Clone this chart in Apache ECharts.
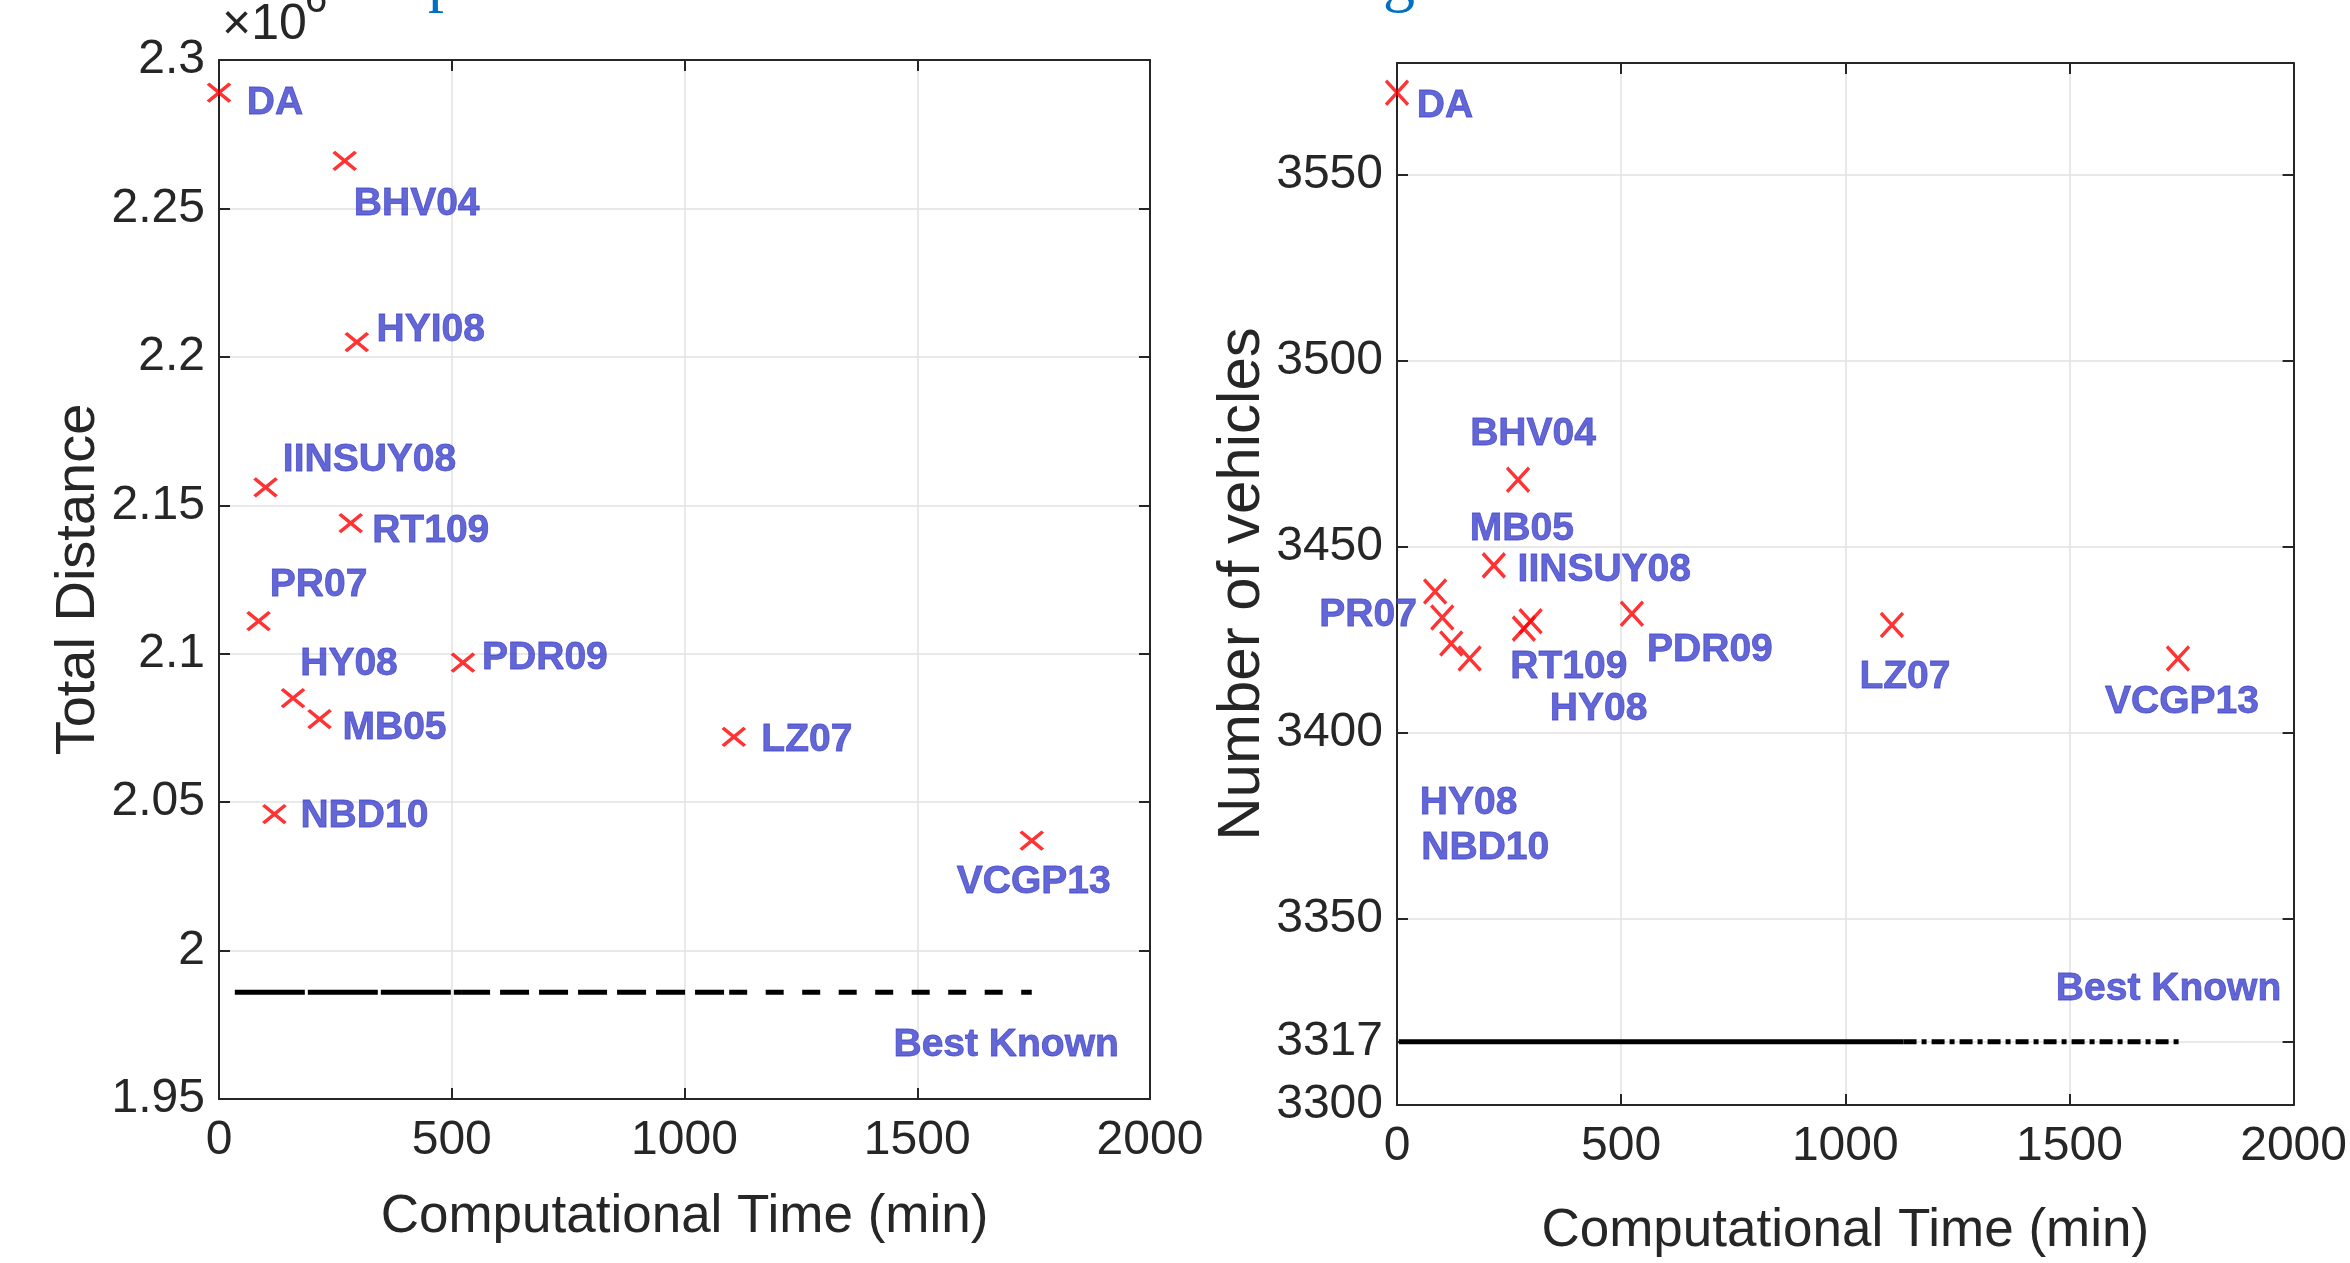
<!DOCTYPE html>
<html lang="en">
<head>
<meta charset="UTF-8">
<title>Total distance / vehicles vs computational time</title>
<style>
    html, body { margin: 0; padding: 0; background: #fff; }
    #container { width: 2350px; height: 1263px; }
</style>
</head>
<body>
<div id="container"></div>
<script src="https://cdn.jsdelivr.net/npm/echarts@6/dist/echarts.min.js"></script>
<script>
// ---- left panel: total distance ----
var distNames = ['DA', 'BHV04', 'HYI08', 'IINSUY08', 'RT109', 'PR07', 'PDR09', 'HY08', 'MB05', 'LZ07', 'NBD10', 'VCGP13'];
var distTime  = [0, 270, 296, 100, 283, 85, 524, 159, 216, 1106, 119, 1746];
var distValue = [2289000, 2266000, 2205000, 2156000, 2144000, 2111000, 2097000, 2085000, 2078000, 2072000, 2046000, 2037000];
var distBest = 1986000;
var distBestTime = [34, 520, 1096, 1746];   // where the dash style of the line changes
var distTicks = ['1.95', '2', '2.05', '2.1', '2.15', '2.2', '2.25', '2.3'];

// ---- right panel: number of vehicles ----
var vehNames = ['DA', 'BHV04', 'MB05', 'PR07', 'IINSUY08', 'NBD10', 'HY08', 'HY08', 'RT109', 'PDR09', 'LZ07', 'VCGP13'];
var vehTime  = [0, 270, 216, 85, 101, 121, 162, 298, 283, 524, 1104, 1742];
var vehCount = [3572, 3468, 3445, 3438, 3431, 3424, 3420, 3430, 3428, 3432, 3429, 3420];
var vehBest = 3317;
var vehBestTime = [4, 1130, 1745];
var vehTicks = [3300, 3317, 3350, 3400, 3450, 3500, 3550];

var timeTicks = [0, 500, 1000, 1500, 2000];

// label placement (px from marker centre), kept apart from the values
var distLabelOffset = [[56, 11], [72, 43], [74, -12], [104, -27], [80, 8], [60, -36], [82, -4], [56, -34], [75, 9], [73, 3], [90, 2], [2, 42]];
var vehLabelOffset  = [[48, 13], [15, -46], [28, -36], [-67, 24], [162, -47], [34, 205], [-1, 145], [68, 88], [45, 39], [78, 36], [13, 52], [4, 44]];

var FONT = 'Liberation Sans, Arial, sans-serif';
var AX = '#262626';
var LBL = '#3c40ca';
var CROSS = 'path://M0,0L10,10M10,0L0,10';

function pts(xs, ys, names, offs) {
    return xs.map(function (x, i) {
        return {
            value: [x, ys[i]],
            name: names[i],
            label: { offset: offs[i] }
        };
    });
}

function plain(v) { return String(v); }

function xAx(grid, top, showName, gap) {
    return {
        gridIndex: grid, type: 'value', position: top ? 'top' : 'bottom',
        min: timeTicks[0], max: timeTicks[timeTicks.length - 1], interval: 500,
        axisLine: { show: true, onZero: false, lineStyle: { color: AX, width: 2 } },
        axisTick: { show: true, inside: true, length: 11, lineStyle: { color: AX, width: 2 } },
        axisLabel: { show: !top, fontSize: 48, color: AX, fontFamily: FONT, margin: 18, formatter: plain },
        splitLine: { show: !top, lineStyle: { color: '#e2e2e2', width: 1.5 } },
        name: showName ? 'Computational Time (min)' : '',
        nameLocation: 'middle', nameGap: gap,
        nameTextStyle: { fontSize: 53, color: AX, fontFamily: FONT }
    };
}

function yAx(grid, right, extra) {
    var a = {
        gridIndex: grid, type: 'value', position: right ? 'right' : 'left',
        axisLine: { show: true, onZero: false, lineStyle: { color: AX, width: 2 } },
        axisTick: { show: true, inside: true, length: 11, lineStyle: { color: AX, width: 2 } },
        axisLabel: { show: !right, fontSize: 48, color: AX, fontFamily: FONT, margin: 14 },
        splitLine: { show: !right, lineStyle: { color: '#e2e2e2', width: 1.5 } },
        nameLocation: 'middle',
        nameTextStyle: { fontSize: 56, color: AX, fontFamily: FONT }
    };
    return Object.assign(a, extra || {});
}

function bestLine(xi, yi, x0, x1, y, dash) {
    return {
        type: 'line', xAxisIndex: xi, yAxisIndex: yi,
        data: [[x0, y], [x1, y]], symbol: 'none', silent: true,
        lineStyle: { color: '#000', width: 5, type: dash, cap: 'butt' },
        z: 3
    };
}

var markerLabel = {
    show: true, position: 'inside', formatter: '{b}',
    fontSize: 39, fontWeight: 'bold', color: LBL, fontFamily: FONT,
    textBorderColor: LBL, textBorderWidth: 0.8
};

function note(xi, yi, x, y) {
    return {
        type: 'scatter', xAxisIndex: xi, yAxisIndex: yi, silent: true,
        data: [[x, y]], symbolSize: 1, itemStyle: { color: 'transparent' },
        label: Object.assign({}, markerLabel, { formatter: 'Best Known' })
    };
}

var myChart = echarts.init(document.getElementById('container'));
var option = {
    backgroundColor: '#fff',
    animation: false,
    grid: [
        { left: 219, top: 60, width: 931, height: 1039 },
        { left: 1397, top: 63, width: 910, height: 1046 }
    ],
    xAxis: [
        xAx(0, false, true, 92),
        xAx(0, true, false, 0),
        xAx(1, false, true, 100),
        xAx(1, true, false, 0)
    ],
    yAxis: [
        yAx(0, false, {
            min: 1950000, max: 2300000, interval: 50000,
            name: 'Total Distance', nameGap: 112,
            axisLabel: { fontSize: 48, color: AX, fontFamily: FONT, margin: 14,
                formatter: function (v) { return distTicks[Math.round((v - 1950000) / 50000)]; } }
        }),
        yAx(0, true, { min: 1950000, max: 2300000, interval: 50000 }),
        yAx(1, false, {
            min: 3300, max: 3580,
            name: 'Number of vehicles', nameGap: 109,
            nameTextStyle: { fontSize: 60, color: AX, fontFamily: FONT },
            axisLabel: { fontSize: 48, color: AX, fontFamily: FONT, margin: 14, customValues: vehTicks, formatter: plain },
            axisTick: { show: true, inside: true, length: 11, lineStyle: { color: AX, width: 2 }, customValues: vehTicks }
        }),
        yAx(1, true, {
            min: 3300, max: 3580,
            axisTick: { show: true, inside: true, length: 11, lineStyle: { color: AX, width: 2 }, customValues: vehTicks }
        })
    ],
    series: [
        {
            type: 'scatter', xAxisIndex: 0, yAxisIndex: 0,
            data: pts(distTime, distValue, distNames, distLabelOffset),
            symbol: CROSS, symbolSize: [22, 18],
            itemStyle: { color: 'none', borderColor: '#ff0000', borderWidth: 3.5 },
            label: markerLabel, z: 5
        },
        bestLine(0, 0, distBestTime[0], distBestTime[1], distBest, [70, 3]),
        bestLine(0, 0, distBestTime[1], distBestTime[2], distBest, [29, 10]),
        bestLine(0, 0, distBestTime[2], distBestTime[3], distBest, [18, 18.5]),
        note(0, 0, 1691, 1968000),
        {
            type: 'scatter', xAxisIndex: 2, yAxisIndex: 2,
            data: pts(vehTime, vehCount, vehNames, vehLabelOffset),
            symbol: CROSS, symbolSize: [22, 24],
            itemStyle: { color: 'none', borderColor: '#ff0000', borderWidth: 3.5 },
            label: markerLabel, z: 5
        },
        bestLine(2, 2, vehBestTime[0], vehBestTime[1], vehBest, 'solid'),
        bestLine(2, 2, vehBestTime[1], vehBestTime[2], vehBest, [13, 5, 5, 5]),
        note(2, 2, 1721, 3331)
    ],
    graphic: [
        { type: 'text', left: 222, top: 0, silent: true,
          style: { text: '×10', fontSize: 50, fill: AX, fontFamily: FONT } },
        { type: 'text', left: 305, top: -19, silent: true,
          style: { text: '6', fontSize: 40, fill: AX, fontFamily: FONT } },
        { type: 'text', left: 428, top: -50, silent: true,
          style: { text: 'p', fontSize: 64, fill: '#0070c0', fontFamily: 'Liberation Serif, serif' } },
        { type: 'text', left: 1383, top: -50, silent: true,
          style: { text: 'g', fontSize: 64, fill: '#0070c0', fontFamily: 'Liberation Serif, serif' } }
    ]
};

if (option && typeof option === "object") {
    myChart.setOption(option, true);
}
</script>
</body>
</html>
